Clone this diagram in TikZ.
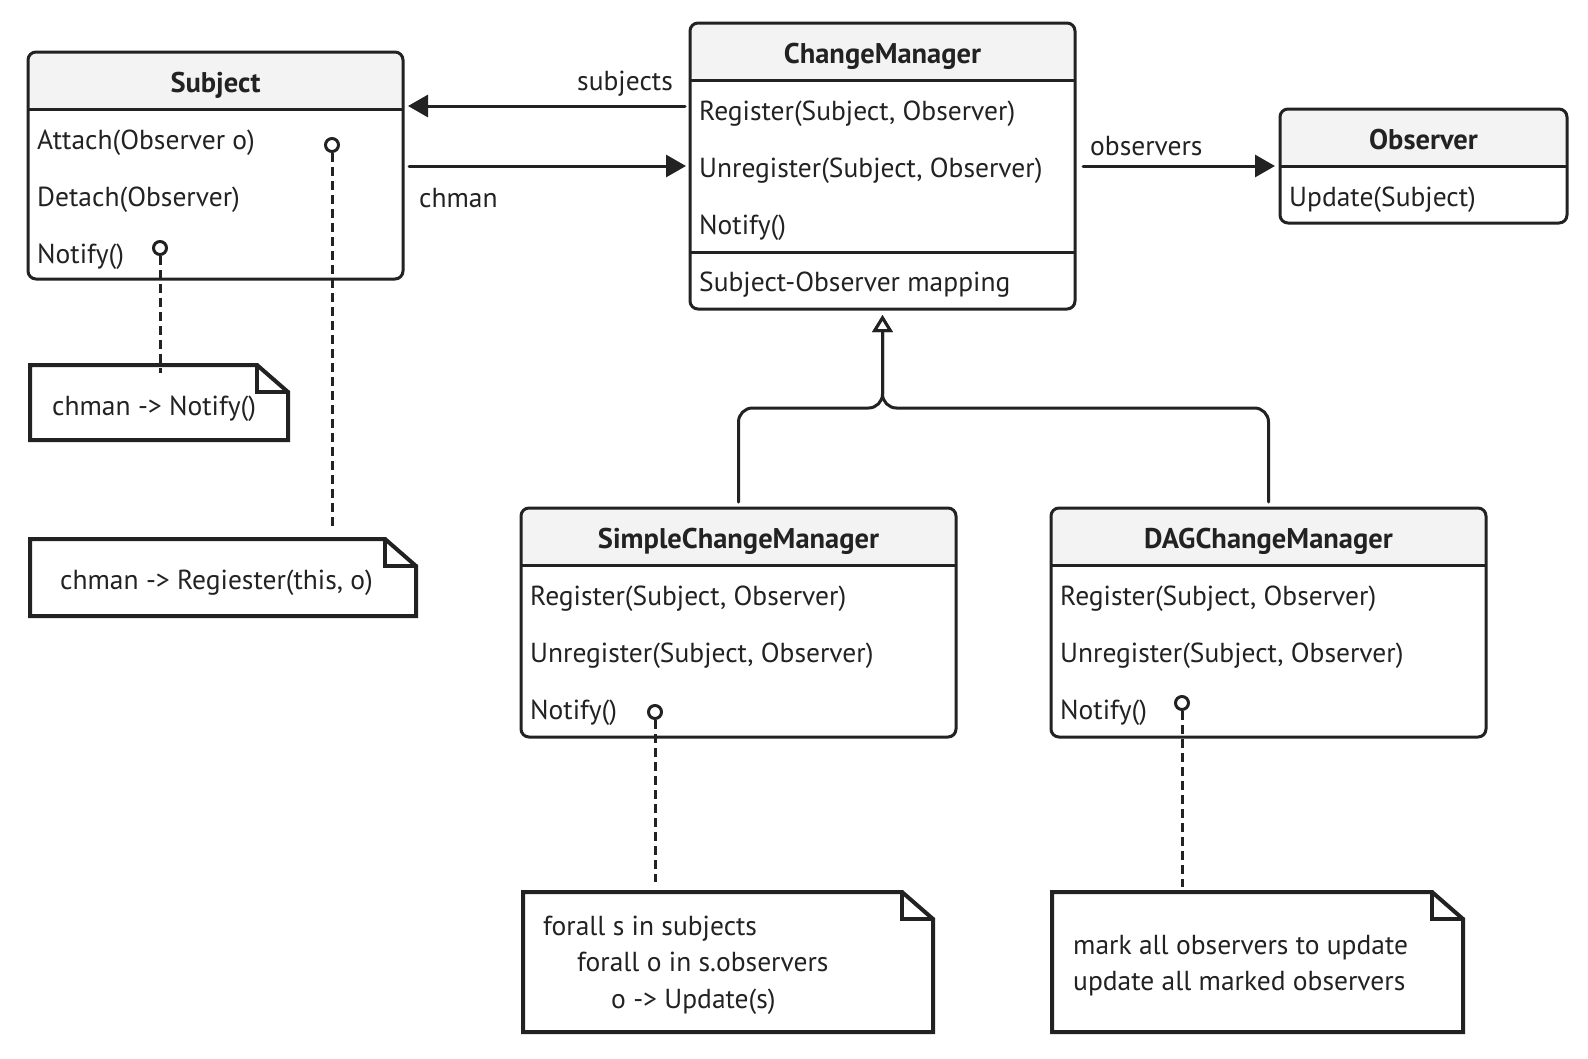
\documentclass[tikz,border=0pt]{standalone}
\usepackage{fontspec}
\setmainfont{PT Sans}
\usetikzlibrary{arrows.meta,calc}
\definecolor{headgray}{RGB}{243,243,243}
\definecolor{ink}{RGB}{34,34,34}
\begin{document}
\begin{tikzpicture}[x=1pt, y=-1pt, line join=round, line cap=round,
	font=\fontsize{27.5}{36}\selectfont, text=ink,
	classbox/.style={draw=ink, line width=3pt, rounded corners=8pt, anchor=north west, inner sep=0pt, outer sep=0pt,
		path picture={\fill[headgray] (path picture bounding box.north west) rectangle ([yshift=-57pt]path picture bounding box.north east);}},
	sep/.style={draw=ink, line width=3pt, line cap=butt},
	title/.style={font=\fontsize{28.5}{36}\selectfont\bfseries, anchor=base, inner sep=0pt},
	member/.style={anchor=base west, inner sep=0pt},
	notebox/.style={anchor=north west, inner sep=0pt, outer sep=0pt},
	noteline/.style={draw=ink, line width=4pt, line join=miter},
	pin/.style={circle, draw=ink, line width=3pt, fill=white, minimum size=13pt, inner sep=0pt},
	dashline/.style={draw=ink, line width=3pt, line cap=butt, dash pattern=on 9pt off 5pt},
	assoc/.style={draw=ink, line width=3pt, -{Triangle[length=20pt,width=22pt]}},
	gen/.style={draw=ink, line width=3pt, rounded corners=14pt, shorten <=6pt, shorten >=6pt,
		-{Triangle[open,length=17pt,width=20pt,fill=white]}}]
	\useasboundingbox (0,0) rectangle (1588,1058);
	\fill[white] (0,0) rectangle (1588,1058);
	% classes
	\node[classbox, minimum width=375, minimum height=227] (subject) at (28,52) {};
	\node[classbox, minimum width=385, minimum height=286] (cm) at (690,23) {};
	\node[classbox, minimum width=287, minimum height=114] (obs) at (1280,109) {};
	\node[classbox, minimum width=435, minimum height=229] (simple) at (521,508) {};
	\node[classbox, minimum width=435, minimum height=229] (dag) at (1051,508) {};
	\foreach \c in {subject,cm,obs,simple,dag}\draw[sep] ([yshift=-57pt]\c.north west)--([yshift=-57pt]\c.north east);
	\draw[sep] ([yshift=-229pt]cm.north west)--([yshift=-229pt]cm.north east);
	\foreach \c/\t in {subject/Subject, cm/ChangeManager, obs/Observer, simple/SimpleChangeManager, dag/DAGChangeManager}
		\node[title] (\c-t) at ($(\c.north)+(0,40)$) {\t};
	\foreach \t [count=\i] in {Attach(Observer o), Detach(Observer), Notify()}
		\node[member] (subject-\i) at ($(subject.north west)+(9,40+57*\i)$) {\t};
	\foreach \t [count=\i] in {{Register(Subject, Observer)}, {Unregister(Subject, Observer)}, Notify(), Subject-Observer mapping}
		\node[member] (cm-\i) at ($(cm.north west)+(9,40+57*\i)$) {\t};
	\node[member] (obs-1) at ($(obs.north west)+(9,97)$) {Update(Subject)};
	\foreach \c in {simple,dag}{
		\foreach \t [count=\i] in {{Register(Subject, Observer)}, {Unregister(Subject, Observer)}, Notify()}
			\node[member] (\c-\i) at ($(\c.north west)+(9,40+57*\i)$) {\t};
	}
	% associations
	\draw[assoc] ($(cm.north west)+(-5,83)$) -- ($(subject.north east)+(5,54)$);
	\draw[assoc] ($(subject.north east)+(6,114)$) -- ($(cm.north west)+(-4,143)$);
	\draw[assoc] ($(cm.north east)+(8,143)$) -- ($(obs.north west)+(-5,57)$);
	\node[anchor=base east, inner sep=0pt] (lbl-subj) at (673,90) {subjects};
	\node[member] (lbl-chman) at (419,207) {chman};
	\node[member] (lbl-obs) at (1090,155) {observers};
	% generalization
	\draw[gen] (simple.north) |- ($(cm.south)+(0,99)$) -- (cm.south);
	\draw[gen] (dag.north) |- ($(cm.south)+(0,99)$) -- (cm.south);
	% notes
	\node[notebox, minimum width=258, minimum height=75] (n1) at (30,365) {};
	\node[notebox, minimum width=386, minimum height=77] (n2) at (30,539) {};
	\node[notebox, minimum width=410, minimum height=140] (n3) at (523,892) {};
	\node[notebox, minimum width=411, minimum height=140] (n4) at (1052,892) {};
	\foreach \n in {n1,n2,n3,n4}{
		\draw[noteline] (\n.north west) -- ($(\n.north east)+(-31,0)$) -- ($(\n.north east)+(0,27)$) -- (\n.south east) -- (\n.south west) -- cycle;
		\draw[noteline] ($(\n.north east)+(-31,0)$) |- ($(\n.north east)+(0,27)$);
	}
	\node[member] (n1-t) at ($(n1.north west)+(22,50)$) {chman -> Notify()};
	\node[member] (n2-t) at ($(n2.north west)+(30,50)$) {chman -> Regiester(this, o)};
	\foreach \t/\d [count=\i] in {forall s in subjects/0, forall o in s.observers/34, o -> Update(s)/68}
		\node[member] (n3-\i) at ($(n3.north west)+(20+\d,6.5+36.5*\i)$) {\t};
	\foreach \t [count=\i] in {mark all observers to update, update all marked observers}
		\node[member] (n4-\i) at ($(n4.north west)+(21,26+36*\i)$) {\t};
	% note links
	\node[pin] (p-att) at (332,145) {};
	\node[pin] (p-sub) at (160,248) {};
	\node[pin] (p-simple) at (655,712) {};
	\node[pin] (p-dag) at (1182,703) {};
	\draw[dashline, shorten >=9pt] (p-att.south) -- (p-att |- n2.north);
	\draw[dashline] (p-sub.south) -- ($(p-sub |- n1.north)+(0,8)$);
	\draw[dashline, shorten >=10pt] (p-simple.south) -- (p-simple |- n3.north);
	\draw[dashline, shorten >=5pt] (p-dag.south) -- (p-dag |- n4.north);
\end{tikzpicture}
\end{document}
